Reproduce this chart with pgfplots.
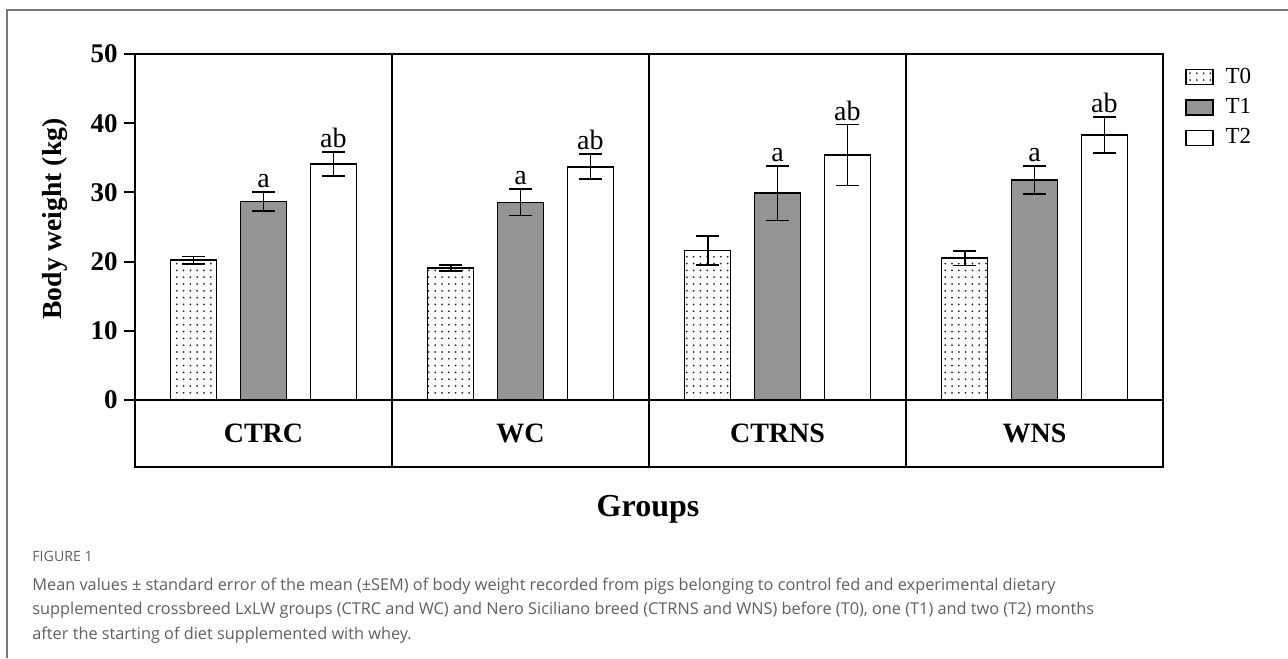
\documentclass[border=0pt]{standalone}
\usepackage{fontspec}
\setmainfont{Liberation Serif}
\newfontfamily\capfont{Open Sans}
\usepackage{pgfplots}
\pgfplotsset{compat=1.18}
\usetikzlibrary{patterns.meta}

\definecolor{barTone}{RGB}{148,148,148}
\definecolor{capgray}{RGB}{95,95,95}
\definecolor{framegray}{RGB}{120,120,120}

\pgfplotsset{
  sembar/.style={ybar, bar width=0.18, bar shift=0pt, draw=black, line width=0.75pt,
    error bars/y dir=both, error bars/y explicit,
    error bars/error bar style={line width=0.9pt, black, solid},
    error bars/error mark options={rotate=90, line width=0.9pt, mark size=5.75pt, black}},
}

\begin{document}
\begin{tikzpicture}
\path[use as bounding box] (0,0) rectangle (644pt,-329pt);
% page frame
\draw[framegray, line width=0.6pt] (3.5pt,-329pt) -- (3.5pt,-5pt) -- (644pt,-5pt);

\begin{axis}[
  at={(67.5pt,-233.5pt)}, anchor=south west,
  scale only axis, width=514pt, height=206.5pt,
  xmin=0, xmax=4, ymin=-9.68, ymax=50,
  axis line style={line width=1pt},
  xtick=\empty,
  ytick={0,10,...,50}, ytick pos=left, tick align=outside,
  major tick length=5.5pt, tick style={line width=1pt, black},
  /pgf/number format/assume math mode=true,
  yticklabel style={font=\fontsize{13.5}{13.5}\selectfont\bfseries, inner xsep=3pt},
  clip=false,
  legend cell align=left,
  legend style={at={(1.0214,0.967)}, anchor=north west, draw=none, fill=none,
    font=\fontsize{11.5}{11.5}\selectfont, inner sep=0pt, row sep=6pt,
    column sep=0pt, nodes={inner sep=0pt, inner xsep=6pt}},
  legend image code/.code={\draw[#1, line width=0.6pt] (0pt,-3.75pt) rectangle (13.5pt,3.75pt);},
]
% panel separators and the zero line
\draw[line width=1pt] (axis cs:0,0) -- (axis cs:4,0);
\draw[line width=1pt] (axis cs:1,-9.68) -- (axis cs:1,50);
\draw[line width=1pt] (axis cs:2,-9.68) -- (axis cs:2,50);
\draw[line width=1pt] (axis cs:3,-9.68) -- (axis cs:3,50);

% T0
\addplot[sembar, pattern={Dots[distance=3.4pt, radius=0.5pt]}, pattern color=black!85]
coordinates {(0.228,20.2) +- (0,0.55) (1.228,19.1) +- (0,0.45)
             (2.228,21.6) +- (0,2.1)  (3.228,20.5) +- (0,1.05)};
\addlegendentry{T0}
% T1
\addplot[sembar, fill=barTone]
coordinates {(0.5,28.7) +- (0,1.4)  (1.5,28.55) +- (0,1.9)
             (2.5,29.9) +- (0,3.95) (3.5,31.8) +- (0,2.0)};
\addlegendentry{T1}
% T2
\addplot[sembar, fill=white]
coordinates {(0.772,34.1) +- (0,1.7) (1.772,33.7) +- (0,1.8)
             (2.772,35.4) +- (0,4.4) (3.772,38.3) +- (0,2.6)};
\addlegendentry{T2}

% significance letters above the error bars
\addplot[forget plot, draw=none, mark=none, nodes near coords,
  point meta=explicit symbolic,
  every node near coord/.append style={anchor=base, yshift=2.2pt, inner sep=0pt,
    font=\fontsize{14}{14}\selectfont, black}]
coordinates {(0.5,30.1)[a] (1.5,30.45)[a] (2.5,33.85)[a] (3.5,33.8)[a]
             (0.772,35.8)[ab] (1.772,35.5)[ab] (2.772,39.8)[ab] (3.772,40.9)[ab]};

% group names in the lower band
\node[font=\fontsize{14}{14}\selectfont\bfseries, inner sep=0pt] at (axis cs:0.5,-4.84) {CTRC};
\node[font=\fontsize{14}{14}\selectfont\bfseries, inner sep=0pt] at (axis cs:1.5,-4.84) {WC};
\node[font=\fontsize{14}{14}\selectfont\bfseries, inner sep=0pt] at (axis cs:2.5,-4.84) {CTRNS};
\node[font=\fontsize{14}{14}\selectfont\bfseries, inner sep=0pt] at (axis cs:3.5,-4.84) {WNS};
\end{axis}

\node[rotate=90, anchor=base, font=\fontsize{13.8}{13.8}\selectfont\bfseries] at (30.85pt,-109.5pt) {Body weight (kg)};
\node[anchor=base, font=\fontsize{16}{16}\selectfont\bfseries] at (324pt,-258pt) {Groups};

% caption
\node[anchor=base west, inner sep=0pt, font=\capfont\fontsize{7.1}{7.1}\selectfont, text=capgray] at (16pt,-280.5pt) {FIGURE 1};
\begin{scope}[every node/.style={anchor=base west, inner sep=0pt, font=\capfont\fontsize{8.15}{8.15}\selectfont, text=capgray}]
\node at (16pt,-295pt) {Mean values ± standard error of the mean (±SEM) of body weight recorded from pigs belonging to control fed and experimental dietary};
\node at (16pt,-307.25pt) {supplemented crossbreed LxLW groups (CTRC and WC) and Nero Siciliano breed (CTRNS and WNS) before (T0), one (T1) and two (T2) months};
\node at (16pt,-319.5pt) {after the starting of diet supplemented with whey.};
\end{scope}
\end{tikzpicture}
\end{document}
